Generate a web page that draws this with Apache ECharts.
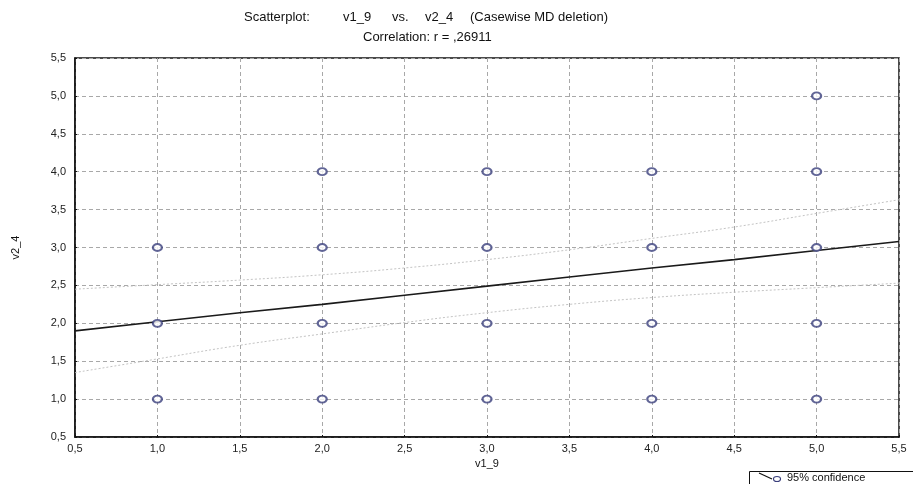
<!DOCTYPE html>
<html>
<head>
<meta charset="utf-8">
<script src="https://cdn.jsdelivr.net/npm/echarts@6/dist/echarts.min.js"></script>
<style>
html, body { margin: 0; padding: 0; background: #fff; }
#main { width: 913px; height: 484px; }
</style>
</head>
<body>
<div id="main"></div>
<script>
// observed cases (v1_9, v2_4)
var points = [
    [1, 3], [1, 2], [1, 1],
    [2, 4], [2, 3], [2, 2], [2, 1],
    [3, 4], [3, 3], [3, 2], [3, 1],
    [4, 4], [4, 3], [4, 2], [4, 1],
    [5, 5], [5, 4], [5, 3], [5, 2], [5, 1]
];
// regression line and 95% band
var fitX = [0.5, 1.0, 1.5, 2.0, 2.5, 3.0, 3.5, 4.0, 4.5, 5.0, 5.5];
var fitY = [1.90, 2.02, 2.14, 2.25, 2.37, 2.49, 2.61, 2.73, 2.84, 2.96, 3.08];
var upperY = [2.45, 2.51, 2.57, 2.64, 2.73, 2.84, 2.97, 3.12, 3.27, 3.45, 3.63];
var lowerY = [1.35, 1.53, 1.71, 1.86, 2.01, 2.14, 2.25, 2.34, 2.41, 2.47, 2.53];
// title pieces
var titleParts = ['Scatterplot:', 'v1_9', 'vs.', 'v2_4', '(Casewise MD deletion)'];
var titleLeft = [244, 343, 392, 425, 470];
var subTitle = 'Correlation: r = ,26911';

function pair(xs, ys) {
    return xs.map(function (x, i) { return [x, ys[i]]; });
}
function fmt(v) {
    return v.toFixed(1).replace('.', ',');
}

var chart = echarts.init(document.getElementById('main'));
var font = 'Liberation Sans, Arial, sans-serif';
var gridLine = { show: true, lineStyle: { color: '#a8a8a8', type: [4, 3], width: 1 } };

var graphics = titleParts.map(function (t, i) {
    return {
        type: 'text', x: titleLeft[i], y: 17,
        style: { text: t, fontSize: 13, fill: '#111', fontFamily: font, verticalAlign: 'middle' }
    };
});
graphics.push({
    type: 'text', x: 363, y: 37,
    style: { text: subTitle, fontSize: 13, fill: '#111', fontFamily: font, verticalAlign: 'middle' }
});
// legend box at bottom right
graphics.push({
    type: 'rect',
    shape: { x: 749.5, y: 471.5, width: 175, height: 20 },
    style: { fill: '#fff', stroke: '#111', lineWidth: 1 }
}, {
    type: 'line',
    shape: { x1: 759, y1: 473, x2: 772, y2: 479 },
    style: { stroke: '#111', lineWidth: 1.2 }
}, {
    type: 'ellipse',
    shape: { cx: 777, cy: 479, rx: 3.5, ry: 2.5 },
    style: { fill: 'none', stroke: '#3a3f7c', lineWidth: 1.2 }
}, {
    type: 'text', x: 787, y: 478,
    style: { text: '95% confidence', fontSize: 11, fill: '#111', fontFamily: font, verticalAlign: 'middle' }
});

var option = {
    backgroundColor: '#fff',
    animation: false,
    grid: {
        left: 75, right: 14, top: 58, bottom: 47,
        show: true, borderColor: '#111', borderWidth: 1.5
    },
    xAxis: {
        type: 'value', min: 0.5, max: 5.5, interval: 0.5,
        name: 'v1_9', nameLocation: 'middle', nameGap: 17,
        nameTextStyle: { fontSize: 11, color: '#111', fontFamily: font },
        axisLine: { show: true, lineStyle: { color: '#111', width: 1.5 } },
        axisTick: { show: true, inside: true, length: 2, lineStyle: { color: '#111' } },
        axisLabel: { fontSize: 11, color: '#222', fontFamily: font, formatter: fmt, margin: 6 },
        splitLine: gridLine
    },
    yAxis: {
        type: 'value', min: 0.5, max: 5.5, interval: 0.5,
        name: 'v2_4', nameLocation: 'middle', nameGap: 54, nameRotate: 90,
        nameTextStyle: { fontSize: 11, color: '#111', fontFamily: font },
        axisLine: { show: true, lineStyle: { color: '#111', width: 1.5 } },
        axisTick: { show: true, inside: true, length: 2, lineStyle: { color: '#111' } },
        axisLabel: { fontSize: 11, color: '#222', fontFamily: font, formatter: fmt, margin: 9 },
        splitLine: gridLine
    },
    series: [{
        type: 'line',
        data: pair(fitX, upperY),
        showSymbol: false, smooth: true,
        lineStyle: { color: '#c4c4c4', width: 1, type: [2, 2] },
        z: 2
    }, {
        type: 'line',
        data: pair(fitX, lowerY),
        showSymbol: false, smooth: true,
        lineStyle: { color: '#c4c4c4', width: 1, type: [2, 2] },
        z: 2
    }, {
        type: 'line',
        data: pair(fitX, fitY),
        showSymbol: false,
        lineStyle: { color: '#1a1a1a', width: 1.6 },
        z: 3
    }, {
        type: 'scatter',
        data: points,
        symbol: 'emptyCircle',
        symbolSize: [9, 7],
        itemStyle: { color: '#3a3f7c', borderColor: '#3a3f7c', borderWidth: 1.5 },
        z: 4
    }],
    graphic: graphics
};
chart.setOption(option);
</script>
</body>
</html>
